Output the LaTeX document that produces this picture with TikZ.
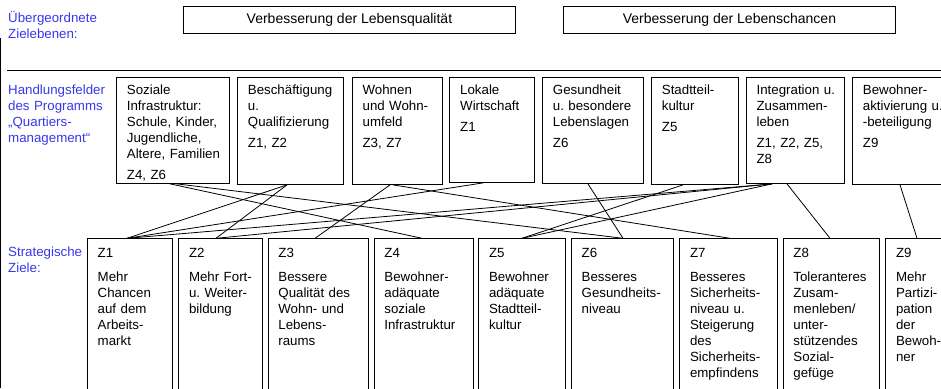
\documentclass[tikz,border=0pt]{standalone}
\usepackage{fontspec}
\setmainfont{Liberation Sans}
\frenchspacing
\definecolor{lblue}{RGB}{55,55,235}
\begin{document}
\begin{tikzpicture}[x=1pt,y=-1pt,
  every node/.style={font=\fontsize{13.3}{16}\selectfont},
  frame/.style={draw=black, line width=0.9pt, inner sep=0pt, anchor=north west},
  txt/.style={inner sep=0pt, anchor=base west, align=left, text width=125pt},
  lbl/.style={txt, text=lblue},
  ttxt/.style={font=\fontsize{14}{16}\selectfont},
  conn/.style={draw=black, line width=0.8pt}
]
\useasboundingbox (0,0) rectangle (941,388);
\clip (0,0) rectangle (941,388);

% frame and rule
\draw[line width=0.9pt] (0.5,38) -- (0.5,388);
\draw[line width=0.9pt] (7,70.5) -- (941,70.5);

% left labels
\node[lbl] (l1) at (8,22) {Übergeordnete\\Zielebenen:};
\node[lbl] (l2) at (8,94.5) {Handlungsfelder\\des Programms\\„Quartiers-\\management“};
\node[lbl] (l3) at (8,256) {Strategische\\Ziele:};

% top level goals
\node[frame, minimum width=332, minimum height=27] (t1) at (183,6) {};
\node[ttxt] at (t1.center) {\frenchspacing Verbesserung der Lebensqualität};
\node[frame, minimum width=332, minimum height=27] (t2) at (563,6) {};
\node[ttxt] at (t2.center) {\frenchspacing Verbesserung der Lebenschancen};

% Handlungsfelder boxes
\node[frame, minimum width=113.3, minimum height=105.5] (h1) at (116,77) {};
\node[frame, minimum width=106.3, minimum height=107] (h2) at (237,77) {};
\node[frame, minimum width=90, minimum height=107] (h3) at (351.7,77) {};
\node[frame, minimum width=84.7, minimum height=105] (h4) at (449.3,77) {};
\node[frame, minimum width=101.3, minimum height=106] (h5) at (542,77) {};
\node[frame, minimum width=87.3, minimum height=107] (h6) at (651,77) {};
\node[frame, minimum width=98.3, minimum height=106] (h7) at (745.7,77) {};
\node[frame, minimum width=110, minimum height=107] (h8) at (852,77) {};

\node[txt] at ([xshift=10.7,yshift=-17.5]h1.north west) {\frenchspacing Soziale\\Infrastruktur:\\Schule, Kinder,\\Jugendliche,\\Altere, Familien\\[5pt]Z4, Z6};
\node[txt] at ([xshift=10.7,yshift=-17.5]h2.north west) {\frenchspacing Beschäftigung\\u.\\Qualifizierung\\[4.7pt]Z1, Z2};
\node[txt] at ([xshift=10.7,yshift=-17.5]h3.north west) {\frenchspacing Wohnen\\und Wohn-\\umfeld\\[4.7pt]Z3, Z7};
\node[txt] at ([xshift=10.7,yshift=-17.5]h4.north west) {\frenchspacing Lokale\\Wirtschaft\\[4.5pt]Z1};
\node[txt] at ([xshift=10.7,yshift=-17.5]h5.north west) {\frenchspacing Gesundheit\\u. besondere\\Lebenslagen\\[4.7pt]Z6};
\node[txt] at ([xshift=10.7,yshift=-17.5]h6.north west) {\frenchspacing Stadtteil-\\kultur\\[4.5pt]Z5};
\node[txt] at ([xshift=10.7,yshift=-17.5]h7.north west) {\frenchspacing Integration u.\\Zusammen-\\leben\\[4.7pt]Z1, Z2, Z5,\\Z8};
\node[txt] at ([xshift=10.7,yshift=-17.5]h8.north west) {\frenchspacing Bewohner-\\aktivierung u.\\-beteiligung\\[4.7pt]Z9};

% strategic goals
\node[frame, minimum width=85.3, minimum height=170] (z1) at (87,238.3) {};
\node[frame, minimum width=83.4, minimum height=170] (z2) at (178.3,238.3) {};
\node[frame, minimum width=100.6, minimum height=170] (z3) at (267.7,238.3) {};
\node[frame, minimum width=99, minimum height=170] (z4) at (373.7,238.3) {};
\node[frame, minimum width=87, minimum height=170] (z5) at (478.3,238.3) {};
\node[frame, minimum width=102.3, minimum height=170] (z6) at (571,238.3) {};
\node[frame, minimum width=97.4, minimum height=170] (z7) at (679.3,238.3) {};
\node[frame, minimum width=96.6, minimum height=170] (z8) at (782.7,238.3) {};
\node[frame, minimum width=80, minimum height=170] (z9) at (885.3,238.3) {};

\node[txt] at ([xshift=10.5,yshift=-18.7]z1.north west) {\frenchspacing Z1\\[8pt]Mehr\\Chancen\\auf dem\\Arbeits-\\markt};
\node[txt] at ([xshift=10.5,yshift=-18.7]z2.north west) {\frenchspacing Z2\\[8pt]Mehr Fort-\\u. Weiter-\\bildung};
\node[txt] at ([xshift=10.5,yshift=-18.7]z3.north west) {\frenchspacing Z3\\[8pt]Bessere\\Qualität des\\Wohn- und\\Lebens-\\raums};
\node[txt] at ([xshift=10.5,yshift=-18.7]z4.north west) {\frenchspacing Z4\\[8pt]Bewohner-\\adäquate\\soziale\\Infrastruktur};
\node[txt] at ([xshift=10.5,yshift=-18.7]z5.north west) {\frenchspacing Z5\\[8pt]Bewohner\\adäquate\\Stadtteil-\\kultur};
\node[txt] at ([xshift=10.5,yshift=-18.7]z6.north west) {\frenchspacing Z6\\[8pt]Besseres\\Gesundheits-\\niveau};
\node[txt] at ([xshift=10.5,yshift=-18.7]z7.north west) {\frenchspacing Z7\\[8pt]Besseres\\Sicherheits-\\niveau u.\\Steigerung\\des\\Sicherheits-\\empfindens};
\node[txt] at ([xshift=10.5,yshift=-18.7]z8.north west) {\frenchspacing Z8\\[8pt]Toleranteres\\Zusam-\\menleben/\\unter-\\stützendes\\Sozial-\\gefüge};
\node[txt] at ([xshift=10.5,yshift=-18.7]z9.north west) {\frenchspacing Z9\\[8pt]Mehr\\Partizi-\\pation\\der\\Bewoh-\\ner};

% connectors
\draw[conn] ([xshift=52]h1.south west) -- ([xshift=48.3]z4.north west);
\draw[conn] ([xshift=57]h1.south west) -- ([xshift=52]z6.north west);
\draw[conn] ([xshift=50]h2.south west) -- ([xshift=40]z1.north west);
\draw[conn] ([xshift=50]h2.south west) -- ([xshift=37.7]z2.north west);
\draw[conn] ([xshift=38.3]h3.south west) -- ([xshift=47.3]z3.north west);
\draw[conn] ([xshift=41.3]h3.south west) -- ([xshift=50.7]z7.north west);
\draw[conn] ([xshift=33.7]h4.south west) -- ([xshift=40]z1.north west);
\draw[conn] ([xshift=46]h5.south west) -- ([xshift=52]z6.north west);
\draw[conn] ([xshift=32]h6.south west) -- ([xshift=43.7]z5.north west);
\draw[conn] ([xshift=26.3]h7.south west) -- ([xshift=40]z1.north west);
\draw[conn] ([xshift=26.3]h7.south west) -- ([xshift=37.7]z2.north west);
\draw[conn] ([xshift=26.3]h7.south west) -- ([xshift=43.7]z5.north west);
\draw[conn] ([xshift=41.3]h7.south west) -- ([xshift=47.3]z8.north west);
\draw[conn] ([xshift=48]h8.south west) -- ([xshift=31.7]z9.north west);
\end{tikzpicture}
\end{document}
